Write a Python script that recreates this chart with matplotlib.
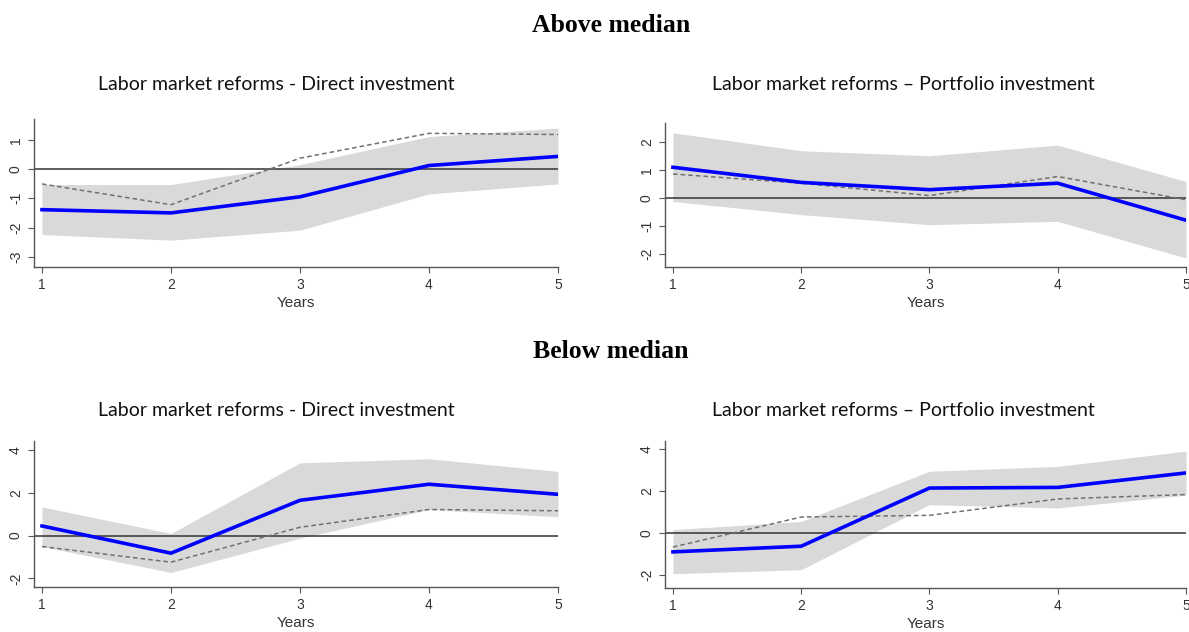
import matplotlib
matplotlib.use("Agg")
import matplotlib.pyplot as plt

# horizon (years after the reform)
years = [1, 2, 3, 4, 5]

# Above median - direct investment
above_direct_est = [-1.39, -1.50, -0.95, 0.12, 0.43]
above_direct_ref = [-0.51, -1.22, 0.37, 1.22, 1.18]
above_direct_lo = [-2.24, -2.43, -2.09, -0.85, -0.51]
above_direct_hi = [-0.53, -0.53, 0.15, 1.11, 1.40]

# Above median - portfolio investment
above_portf_est = [1.10, 0.56, 0.30, 0.53, -0.79]
above_portf_ref = [0.86, 0.53, 0.09, 0.77, -0.06]
above_portf_lo = [-0.12, -0.59, -0.95, -0.83, -2.14]
above_portf_hi = [2.33, 1.69, 1.51, 1.89, 0.59]

# Below median - direct investment
below_direct_est = [0.45, -0.82, 1.65, 2.40, 1.93]
below_direct_ref = [-0.51, -1.24, 0.39, 1.22, 1.16]
below_direct_lo = [-0.51, -1.72, -0.12, 1.22, 0.88]
below_direct_hi = [1.34, 0.10, 3.40, 3.59, 3.00]

# Below median - portfolio investment
below_portf_est = [-0.90, -0.63, 2.14, 2.17, 2.86]
below_portf_ref = [-0.67, 0.76, 0.84, 1.62, 1.83]
below_portf_lo = [-1.94, -1.75, 1.35, 1.19, 1.80]
below_portf_hi = [0.16, 0.55, 2.94, 3.17, 3.90]

title_direct = "Labor market reforms - Direct investment"
title_portf = "Labor market reforms \u2013 Portfolio investment"

W, H = 1189, 632
fig = plt.figure(figsize=(W / 100, H / 100), dpi=100)
sans = ["Liberation Sans", "DejaVu Sans"]


def px_axes(left, right, top, bottom):
    return fig.add_axes([left / W, 1 - bottom / H, (right - left) / W, (bottom - top) / H])


def draw_panel(ax, est, ref, lo, hi, ylim, yticks):
    ax.fill_between(years, lo, hi, color="#d9d9d9", linewidth=0, zorder=1)
    ax.axhline(0, color="#333333", linewidth=1.1, zorder=2)
    ax.plot(years, ref, color="#707070", linestyle=(0, (3, 2)), linewidth=1.1, zorder=3)
    ax.plot(years, est, color="#0000ff", linewidth=2.6, zorder=4, solid_joinstyle="round")
    ax.set_xlim(0.938, 5.0)
    ax.set_ylim(*ylim)
    ax.set_xticks(years)
    ax.set_xticklabels([str(y) for y in years], family=sans)
    ax.set_yticks(yticks)
    ax.set_yticklabels([str(t) for t in yticks], rotation=90, va="center", family=sans)
    for s in ["top", "right"]:
        ax.spines[s].set_visible(False)
    for s in ["left", "bottom"]:
        ax.spines[s].set_color("#555555")
        ax.spines[s].set_linewidth(1.0)
    ax.tick_params(direction="out", length=4, width=0.8, color="#555555",
                   labelsize=10, labelcolor="#333333", pad=4)
    ax.set_xlabel("Years", fontsize=11, color="#333333", labelpad=3, family=sans)


ax1 = px_axes(34, 558, 119, 267)
draw_panel(ax1, above_direct_est, above_direct_ref, above_direct_lo, above_direct_hi,
           (-3.35, 1.71), [-3, -2, -1, 0, 1])
ax2 = px_axes(665, 1186, 123, 267)
draw_panel(ax2, above_portf_est, above_portf_ref, above_portf_lo, above_portf_hi,
           (-2.46, 2.68), [-2, -1, 0, 1, 2])
ax3 = px_axes(34, 558, 441, 587)
draw_panel(ax3, below_direct_est, below_direct_ref, below_direct_lo, below_direct_hi,
           (-2.4, 4.42), [-2, 0, 2, 4])
ax4 = px_axes(665, 1186, 441, 588)
draw_panel(ax4, below_portf_est, below_portf_ref, below_portf_lo, below_portf_hi,
           (-2.62, 4.38), [-2, 0, 2, 4])

serif = ["Liberation Serif", "DejaVu Serif"]
fig.text(611 / W, 1 - 25 / H, "Above median", ha="center", va="center",
         fontsize=18.5, fontweight="bold", family=serif)
fig.text(611 / W, 1 - 352 / H, "Below median", ha="center", va="center",
         fontsize=18.5, fontweight="bold", family=serif)

sub = ["Lato", "DejaVu Sans"]
for x, y, t in [(276, 84, title_direct), (903, 84, title_portf),
                (276, 411, title_direct), (903, 411, title_portf)]:
    fig.text(x / W, 1 - y / H, t, ha="center", va="center", fontsize=14, family=sub,
             color="#111111")

fig.savefig("out.png", dpi=100)
